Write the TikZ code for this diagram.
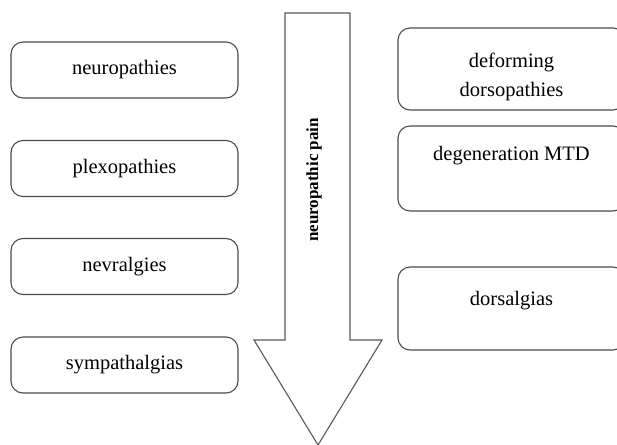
\documentclass[tikz,border=0pt]{standalone}
\usepackage{fontspec}
\setmainfont{Liberation Serif}
\usetikzlibrary{positioning}
\tikzset{
  rbox/.style={draw=black!70, line width=1.1pt, rounded corners=12pt, minimum width=227pt, inner sep=0pt, font=\fontsize{20.5}{29}\selectfont},
  lbl/.style={font=\fontsize{20.5}{29}\selectfont, align=center, inner sep=0pt}
}
\begin{document}
\begin{tikzpicture}[x=1pt,y=-1pt]
\useasboundingbox (0,0) rectangle (617,444);
% big arrow
\draw[black!65, line width=1.1pt, fill=white] (285,13)--(350,13)--(350,340)--(382,340)--(318,445)--(254,340)--(285,340)--cycle;
\node[font=\bfseries\fontsize{17}{20}\selectfont, rotate=90] (pain) at (314,180) {neuropathic pain};
% left column
\foreach \y/\name/\txt in {70/neuro/neuropathies, 168.5/plexo/plexopathies, 266.5/nevr/nevralgies, 365/symp/sympathalgias} {
 \node[rbox, minimum height=56pt] (\name) at (124.5,\y) {\txt};
}
% right column
\node[rbox, minimum height=82pt] (deform) at (511.5,69) {};
\node[lbl, below=25pt of deform.north] (deform-t) {deforming\\dorsopathies};
\node[rbox, minimum height=85pt] (mtd) at (511.5,168.5) {};
\node[lbl, below=21pt of mtd.north] (mtd-t) {degeneration MTD};
\node[rbox, minimum height=83pt] (dors) at (511.5,308.5) {};
\node[lbl, below=25pt of dors.north] (dors-t) {dorsalgias};
\end{tikzpicture}
\end{document}
